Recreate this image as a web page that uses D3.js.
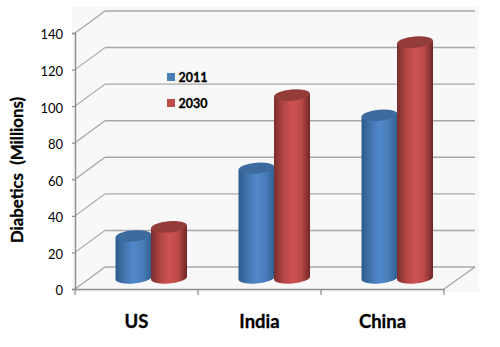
<!DOCTYPE html>
<html>
<head>
<meta charset="utf-8">
<script src="https://d3js.org/d3.v7.min.js"></script>
<style>
  html, body { margin: 0; padding: 0; background: #fff; }
  svg { display: block; }
  text { font-family: Lato, "Liberation Sans", sans-serif; fill: #000; }
  .bold { stroke: #000; stroke-width: 0.3px; }
</style>
</head>
<body>
<svg id="chart" width="500" height="347"></svg>
<script>
var categories = ["US", "India", "China"];
var seriesNames = ["2011", "2030"];
var values2011 = [23, 60, 89];
var values2030 = [28, 100, 129];
var yTicks = [0, 20, 40, 60, 80, 100, 120, 140];
var seriesValues = [values2011, values2030];

var svg = d3.select("#chart");

var depthX = 30, depthY = 22;
var x = d3.scaleBand().domain(categories).range([75, 444]);
var xInner = d3.scaleBand().domain(seriesNames).range([-36, 36]);
var y = d3.scaleLinear().domain([0, 140]).range([289, 33]);

var colors = {
  "2011": { stops: ["#2c5a8c", "#4375ad", "#5189cc", "#4a7db9", "#2f5f92"], top: "#3d6b9e", legend: "#4a7ebb" },
  "2030": { stops: ["#7a2e2d", "#b04544", "#cd5352", "#bb4a49", "#702726"], top: "#933c3a", legend: "#be4b48" }
};

var defs = svg.append("defs");
seriesNames.forEach(function (name) {
  var grad = defs.append("linearGradient").attr("id", "grad" + name);
  colors[name].stops.forEach(function (c, i) {
    grad.append("stop").attr("offset", (i * 25) + "%").attr("stop-color", c);
  });
});

// back panel
svg.append("rect")
  .attr("x", 72).attr("y", 7)
  .attr("width", 407).attr("height", 285)
  .attr("fill", "#f8f8f8");

// gridlines on the back wall and side wall
svg.selectAll("line.grid")
  .data(yTicks)
  .enter().append("line")
  .attr("class", "grid")
  .attr("x1", 75 + depthX)
  .attr("x2", 444 + depthX + 1)
  .attr("y1", function (d) { return y(d) - depthY; })
  .attr("y2", function (d) { return y(d) - depthY; })
  .attr("stroke", "#a8a8a8")
  .attr("stroke-width", 1.4);

svg.selectAll("line.side")
  .data(yTicks)
  .enter().append("line")
  .attr("class", "side")
  .attr("x1", 75)
  .attr("x2", 75 + depthX)
  .attr("y1", function (d) { return y(d); })
  .attr("y2", function (d) { return y(d) - depthY; })
  .attr("stroke", "#a0a0a0")
  .attr("stroke-width", 1.1);

// floor edges
svg.append("line")
  .attr("x1", 444).attr("y1", y(0))
  .attr("x2", 444 + depthX + 1).attr("y2", y(0) - depthY)
  .attr("stroke", "#a0a0a0").attr("stroke-width", 1.1);

// axes
var yAxis = d3.axisLeft(y).tickValues(yTicks).tickSize(3).tickPadding(9);
var gy = svg.append("g").attr("transform", "translate(75,0)").call(yAxis);
gy.selectAll("text")
  .style("font-size", "13px")
  .attr("fill", "#000")
  .attr("dy", "0.45em");

var xAxis = d3.axisBottom(x).tickValues([]).tickSize(0);
var gx = svg.append("g").attr("transform", "translate(0,289)").call(xAxis);
gx.selectAll(".tick").remove();

svg.selectAll("line.xtick")
  .data(categories.concat(["end"]))
  .enter().append("line")
  .attr("class", "xtick")
  .attr("x1", function (d, i) { return 75 + i * x.step(); })
  .attr("x2", function (d, i) { return 75 + i * x.step(); })
  .attr("y1", 289).attr("y2", 295)
  .attr("stroke", "#8c8c8c").attr("stroke-width", 1.2);

svg.selectAll(".domain")
  .attr("stroke", "#8c8c8c").attr("stroke-width", 1.4);
gy.selectAll(".tick line").attr("stroke", "#8c8c8c").attr("stroke-width", 1.2);

svg.selectAll("text.cat")
  .data(categories)
  .enter().append("text")
  .attr("class", "cat bold")
  .attr("x", function (d) { return x(d) + x.bandwidth() / 2; })
  .attr("y", 328)
  .attr("text-anchor", "middle")
  .attr("font-weight", 700)
  .attr("font-size", 18.5)
  .text(function (d) { return d; });

// cylinders, blue first so the red one sits over it
var rx = 18, ry = 5.6, tilt = -5;
var rad = tilt * Math.PI / 180;
var tiltY = rx * Math.sin(rad);

seriesNames.forEach(function (name, s) {
  var g = svg.append("g").attr("class", "series" + name);
  categories.forEach(function (cat, i) {
    var cx = x(cat) + x.bandwidth() / 2 + depthX / 2 + xInner(name) + xInner.bandwidth() / 2 + s * -0.5;
    var base = y(0) - depthY / 2;
    var topY = y(seriesValues[s][i]) - depthY / 2;
    var arc = "A" + rx + "," + ry + " " + tilt + " 0 0 ";

    g.append("path")
      .attr("d", "M" + (cx - rx) + "," + (topY - tiltY) +
        "L" + (cx - rx) + "," + (base - tiltY) +
        arc + (cx + rx) + "," + (base + tiltY) +
        "L" + (cx + rx) + "," + (topY + tiltY) + "Z")
      .attr("fill", "url(#grad" + name + ")");

    g.append("ellipse")
      .attr("cx", cx).attr("cy", topY)
      .attr("rx", rx).attr("ry", ry)
      .attr("transform", "rotate(" + tilt + " " + cx + " " + topY + ")")
      .attr("fill", colors[name].top);
  });
});

// legend
seriesNames.forEach(function (name, i) {
  var ly = 77 + i * 26;
  svg.append("rect")
    .attr("x", 167).attr("y", ly - 4)
    .attr("width", 8).attr("height", 8)
    .attr("fill", colors[name].legend);
  svg.append("text")
    .attr("class", "bold")
    .attr("x", 178.5).attr("y", ly + 4.5)
    .attr("font-weight", 700)
    .attr("font-size", 12.5)
    .text(name);
});

// y title
svg.append("text")
  .attr("class", "bold")
  .attr("transform", "translate(23,170) rotate(-90)")
  .attr("text-anchor", "middle")
  .attr("font-weight", 700)
  .attr("font-size", 16.8)
  .style("white-space", "pre")
  .text("Diabetics  (Millions)");
</script>
</body>
</html>
